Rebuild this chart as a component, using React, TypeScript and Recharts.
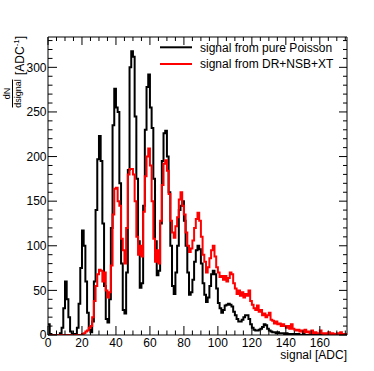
import React from 'react';
import { LineChart, Line, XAxis, YAxis, Legend } from 'recharts';

// Histogram bin contents, one bin per ADC count (bin low edges 0..175)
const blackCounts = [
  12, 1, 0, 0, 0, 0, 0, 2, 8, 30,
  60, 40, 20, 4, 1, 0, 1, 8, 35, 75,
  117, 100, 60, 25, 6, 3, 15, 60, 140, 197,
  223, 195, 125, 55, 18, 14, 40, 120, 235, 276,
  255, 250, 170, 80, 28, 24, 70, 185, 300, 318,
  312, 245, 175, 105, 53, 58, 145, 230, 278, 292,
  255, 232, 175, 105, 67, 72, 125, 195, 226, 229,
  200, 160, 100, 55, 46, 70, 100, 140, 145, 150,
  128, 100, 70, 45, 48, 62, 82, 95, 100, 96,
  80, 58, 45, 37, 42, 55, 68, 72, 68, 52,
  36, 30, 25, 28, 33, 34, 35, 34, 32, 26,
  22, 18, 15, 15, 17, 20, 22, 22, 18, 12,
  8, 6, 5, 5, 6, 7, 9, 12, 11, 7,
  5, 4, 3, 3, 2, 3, 2, 2, 2, 1,
  2, 1, 1, 0, 1, 1, 0, 1, 0, 0,
  1, 0, 0, 0, 0, 0, 0, 0, 0, 0,
  0, 0, 0, 0, 0, 0, 0, 0, 0, 0,
  0, 0, 0, 0, 0, 0,
];

const redCounts = [
  0, 0, 0, 0, 0, 0, 0, 0, 0, 0,
  0, 0, 0, 0, 0, 0, 0, 0, 0, 0,
  1, 2, 4, 5, 8, 10, 20, 38, 55, 68,
  73, 72, 60, 70, 50, 42, 48, 78, 135, 164,
  165, 150, 145, 108, 95, 80, 120, 180, 186, 186,
  180, 150, 110, 90, 100, 88, 138, 178, 200, 209,
  190, 150, 108, 82, 95, 80, 128, 168, 192, 196,
  184, 158, 128, 115, 109, 122, 132, 152, 160, 145,
  135, 115, 100, 93, 97, 106, 120, 130, 137, 128,
  110, 90, 82, 70, 76, 86, 95, 100, 88, 76,
  70, 65, 66, 62, 66, 60, 64, 70, 68, 58,
  52, 46, 50, 44, 48, 42, 46, 44, 50, 38,
  34, 30, 28, 33, 26, 28, 22, 24, 20, 22,
  25, 17, 16, 13, 15, 12, 13, 10, 12, 10,
  8, 10, 7, 12, 7, 6, 5, 6, 4, 5,
  3, 6, 3, 4, 2, 5, 2, 3, 2, 2,
  5, 2, 1, 2, 1, 3, 1, 2, 1, 1,
  2, 1, 3, 1, 1, 1,
];

const seriesKeys = ['black', 'red'];
const seriesNames = ['signal from pure Poisson', 'signal from DR+NSB+XT'];
const seriesColors = ['#000000', '#ff0000'];

const X_MAX = 176;
const Y_MAX = 334;
const xTicks = Array.from({ length: 36 }, (_, i) => i * 5); // 0..175 step 5
const yTicks = Array.from({ length: 34 }, (_, i) => i * 10); // 0..330 step 10
const xLabelStep = 20;
const yLabelStep = 50;

const rows = blackCounts.map((b, i) => ({ x: i, black: b, red: redCounts[i] }));
rows.push({ x: X_MAX, black: blackCounts[blackCounts.length - 1], red: redCounts[redCounts.length - 1] });

const FONT = '"Liberation Sans", Arial, Helvetica, sans-serif';

const BottomTick = (props: any) => {
  const { x, y, payload } = props;
  const v = payload.value;
  const major = v % xLabelStep === 0;
  return (
    <g>
      <line x1={x} x2={x} y1={y} y2={y - (major ? 9 : 4.5)} stroke="#000" strokeWidth={1} />
      {major && (
        <text x={x} y={y + 11.5} textAnchor="middle" fontSize={12} fontFamily={FONT} fill="#000">
          {v}
        </text>
      )}
    </g>
  );
};

const TopTick = (props: any) => {
  const { x, y, payload } = props;
  const v = payload.value;
  const major = v % xLabelStep === 0;
  return <line x1={x} x2={x} y1={y} y2={y + (major ? 8 : 4)} stroke="#000" strokeWidth={1} />;
};

const LeftTick = (props: any) => {
  const { x, y, payload } = props;
  const v = payload.value;
  const major = v % yLabelStep === 0;
  return (
    <g>
      <line x1={x} x2={x + (major ? 9 : 4.5)} y1={y} y2={y} stroke="#000" strokeWidth={1} />
      {major && (
        <text x={x - 1.5} y={y + 4.3} textAnchor="end" fontSize={12} fontFamily={FONT} fill="#000">
          {v}
        </text>
      )}
    </g>
  );
};

const RightTick = (props: any) => {
  const { x, y, payload } = props;
  const v = payload.value;
  const major = v % yLabelStep === 0;
  return <line x1={x} x2={x - (major ? 8 : 4)} y1={y} y2={y} stroke="#000" strokeWidth={1} />;
};

const XTitle = (props: any) => {
  const vb = props.viewBox || {};
  return (
    <text x={vb.x + vb.width} y={vb.y + 23.5} textAnchor="end" fontSize={12} fontFamily={FONT} fill="#000">
      signal [ADC]
    </text>
  );
};

const YTitle = (props: any) => {
  const vb = props.viewBox || {};
  const cx = vb.x;
  const cy = vb.y + 56.5;
  return (
    <g transform={`translate(${cx}, ${cy}) rotate(-90)`} fontFamily={FONT} fill="#000">
      <text x={0} y={10} textAnchor="middle" fontSize={9}>dN</text>
      <line x1={-14} x2={14} y1={12.5} y2={12.5} stroke="#000" strokeWidth={1} />
      <text x={0} y={20.5} textAnchor="middle" fontSize={9}>dsignal</text>
      <text x={18.5} y={24} textAnchor="start" fontSize={12}>
        [ADC<tspan fontSize={8} dy={-5}>-1</tspan><tspan dy={5}>]</tspan>
      </text>
    </g>
  );
};

const LegendBox = (props: any) => {
  const payload = props.payload || [];
  const entries = seriesKeys.map((k, i) => {
    const p = payload.find((e: any) => e.dataKey === k && e.type !== 'none');
    return { color: p ? p.color : seriesColors[i], value: p ? p.value : seriesNames[i] };
  });
  return (
    <svg width={374} height={80} style={{ position: 'absolute', left: 0, top: 0, overflow: 'visible' }}>
      {entries.map((e: any, i: number) => (
        <g key={i}>
          <line x1={160} x2={192} y1={47.3 + i * 16.7} y2={47.3 + i * 16.7} stroke={e.color} strokeWidth={2} />
          <text x={200} y={51.5 + i * 16.7} fontSize={12} fontFamily={FONT} fill="#000">
            {e.value}
          </text>
        </g>
      ))}
    </svg>
  );
};

export default function App() {
  return (
    <div style={{ position: 'absolute', left: 0, top: 0, width: 374, height: 371, background: '#fff' }}>
      <LineChart width={374} height={371} data={rows} margin={{ top: 0, right: 0, bottom: 0, left: 0 }}>
        <XAxis
          xAxisId="b"
          dataKey="x"
          type="number"
          domain={[0, X_MAX]}
          ticks={xTicks}
          interval={0}
          tickSize={0}
          tickMargin={0}
          tickLine={false}
          tick={BottomTick}
          axisLine={{ stroke: '#000', strokeWidth: 1 }}
          height={36}
          allowDataOverflow
          label={<XTitle />}
        />
        <XAxis
          xAxisId="t"
          orientation="top"
          dataKey="x"
          type="number"
          domain={[0, X_MAX]}
          ticks={xTicks}
          interval={0}
          tickSize={0}
          tickMargin={0}
          tickLine={false}
          tick={TopTick}
          axisLine={{ stroke: '#000', strokeWidth: 1 }}
          height={37}
          allowDataOverflow
        />
        <YAxis
          yAxisId="l"
          type="number"
          domain={[0, Y_MAX]}
          ticks={yTicks}
          interval={0}
          tickSize={0}
          tickMargin={0}
          tickLine={false}
          tick={LeftTick}
          axisLine={{ stroke: '#000', strokeWidth: 1 }}
          width={48}
          allowDataOverflow
          label={<YTitle />}
        />
        <YAxis
          yAxisId="r"
          orientation="right"
          type="number"
          domain={[0, Y_MAX]}
          ticks={yTicks}
          interval={0}
          tickSize={0}
          tickMargin={0}
          tickLine={false}
          tick={RightTick}
          axisLine={{ stroke: '#000', strokeWidth: 1 }}
          width={27}
          allowDataOverflow
        />
        <Line
          xAxisId="t"
          yAxisId="r"
          dataKey="black"
          type="stepAfter"
          stroke="#000"
          strokeOpacity={0}
          dot={false}
          activeDot={false}
          legendType="none"
          isAnimationActive={false}
        />
        <Line
          xAxisId="b"
          yAxisId="l"
          dataKey="black"
          name={seriesNames[0]}
          type="stepAfter"
          stroke={seriesColors[0]}
          strokeWidth={2}
          dot={false}
          activeDot={false}
          isAnimationActive={false}
        />
        <Line
          xAxisId="b"
          yAxisId="l"
          dataKey="red"
          name={seriesNames[1]}
          type="stepAfter"
          stroke={seriesColors[1]}
          strokeWidth={2}
          dot={false}
          activeDot={false}
          isAnimationActive={false}
        />
        <Legend
          layout="vertical"
          align="center"
          verticalAlign="middle"
          content={<LegendBox />}
          wrapperStyle={{ position: 'absolute', left: 0, top: 0, width: 374, height: 80 }}
        />
      </LineChart>
    </div>
  );
}
